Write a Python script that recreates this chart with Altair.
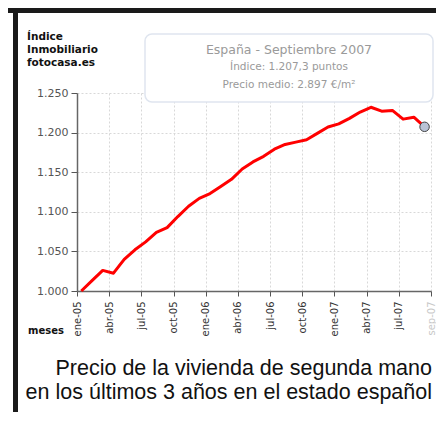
import altair as alt
import pandas as pd

# ---- data ----
months = ["2005-01", "2005-02", "2005-03", "2005-04", "2005-05", "2005-06", "2005-07", "2005-08",
          "2005-09", "2005-10", "2005-11", "2005-12", "2006-01", "2006-02", "2006-03", "2006-04",
          "2006-05", "2006-06", "2006-07", "2006-08", "2006-09", "2006-10", "2006-11", "2006-12",
          "2007-01", "2007-02", "2007-03", "2007-04", "2007-05", "2007-06", "2007-07", "2007-08",
          "2007-09"]
index_values = [1000.0, 1013.0, 1026.0, 1022.5, 1040.0, 1052.0, 1062.0, 1074.0,
                1080.0, 1094.0, 1107.0, 1117.0, 1123.0, 1132.0, 1141.0, 1154.0,
                1163.0, 1170.0, 1179.0, 1185.0, 1188.0, 1191.0, 1199.0, 1207.0,
                1211.0, 1218.0, 1226.0, 1232.0, 1227.0, 1228.0, 1217.0, 1219.5,
                1207.3]
# axis ticks sit slightly left of the month they name (as in the source graphic)
tick_positions = [-0.4, 2.6, 5.6, 8.6, 11.6, 14.6, 17.6, 20.6, 23.6, 26.6, 29.6, 32.6]
tick_labels = ["ene-05", "abr-05", "jul-05", "oct-05", "ene-06", "abr-06", "jul-06", "oct-06",
               "ene-07", "abr-07", "jul-07", "sep-07"]
y_ticks = [1000, 1050, 1100, 1150, 1200, 1250]

brand_lines = ["Índice", "Inmobiliario", "fotocasa.es"]
box_lines = ["España - Septiembre 2007", "Índice: 1.207,3 puntos", "Precio medio: 2.897 €/m²"]
caption_lines = ["Precio de la vivienda de segunda mano",
                 "en los últimos 3 años en el estado español"]
unit_label = "meses"

df = pd.DataFrame({"m": list(range(len(months))), "fecha": months, "indice": index_values})
last = df.tail(1)
one = pd.DataFrame({"a": [0]})

labels_js = "[" + ",".join("'%s'" % t for t in tick_labels) + "]"
x_label_expr = f"{labels_js}[round((datum.value + 0.4) / 3)]"

FONT = "DejaVu Sans"

x_enc = alt.X("m:Q", scale=alt.Scale(domain=[-0.4, 32.6], nice=False, zero=False),
              axis=alt.Axis(values=tick_positions, labelExpr=x_label_expr, title=None,
                            labelAngle=270, labelAlign="right", labelBaseline="middle",
                            labelFont=FONT, labelFontSize=10, labelPadding=5,
                            labelColor=alt.expr("datum.value > 32 ? '#c8c8c8' : '#333333'"),
                            tickSize=5, tickColor="#555", domainColor="#666", domainWidth=1.5,
                            grid=True, gridColor="#d8d8d8", gridDash=[2, 2],
                            labelOverlap=False, labelFlush=False))
y_enc = alt.Y("indice:Q", scale=alt.Scale(domain=[1000, 1250], nice=False, zero=False),
              axis=alt.Axis(values=y_ticks, labelExpr="replace(format(datum.value, ','), ',', '.')",
                            title=None, labelFont=FONT, labelFontSize=11, labelColor="#555",
                            labelPadding=3, tickSize=6, tickColor="#555", domainColor="#666",
                            domainWidth=1.5, grid=True, gridColor="#d8d8d8", gridDash=[2, 2],
                            labelOverlap=False, labelFlush=False))

line = alt.Chart(df).mark_line(color="#ff0000", strokeWidth=3, strokeJoin="round").encode(x=x_enc, y=y_enc)
endpoint = alt.Chart(last).mark_point(filled=True, size=90, fill="#b9c3d6", stroke="#444",
                                      strokeWidth=1, opacity=1).encode(x=x_enc, y=y_enc)

# frame bars
top_bar = alt.Chart(one).mark_rect(color="#1a1a1a").encode(
    x=alt.value(-69), x2=alt.value(370), y=alt.value(-85), y2=alt.value(-80))
left_bar = alt.Chart(one).mark_rect(color="#1a1a1a").encode(
    x=alt.value(-64), x2=alt.value(-59), y=alt.value(-85), y2=alt.value(340))

# info box
box = alt.Chart(one).mark_rect(fill="white", stroke="#dfe5ef", strokeWidth=1.5, cornerRadius=7).encode(
    x=alt.value(68), x2=alt.value(356), y=alt.value(-59), y2=alt.value(9))

def text_layer(txt, x, y, **kw):
    return alt.Chart(pd.DataFrame({"t": [txt]})).mark_text(**kw).encode(
        text="t:N", x=alt.value(x), y=alt.value(y))

layers = [top_bar, left_bar, line, box, endpoint]

brand_y = [-53, -40, -27]
for t, yy in zip(brand_lines, brand_y):
    layers.append(text_layer(t, -50, yy, font=FONT, fontSize=10.5, fontWeight="bold",
                             color="#111", align="left", baseline="alphabetic"))

box_y = [-43, -26, -8]
box_sizes = [12.5, 10.5, 10.5]
for t, yy, fs in zip(box_lines, box_y, box_sizes):
    layers.append(text_layer(t, 212, yy, font=FONT, fontSize=fs, color="#9a9a9a",
                             align="center", baseline="middle"))

layers.append(text_layer(unit_label, -49, 238, font=FONT, fontSize=10, fontWeight="bold",
                         color="#111", align="left", baseline="middle"))

cap_y = [282, 306]
for t, yy in zip(caption_lines, cap_y):
    layers.append(text_layer(t, 355, yy, font="Liberation Sans", fontSize=21.5, color="#111",
                             align="right", baseline="alphabetic"))

chart = alt.layer(*layers).properties(
    width=354, height=198,
    padding={"left": 69, "top": 85, "right": 5, "bottom": 121},
    autosize=alt.AutoSizeParams(type="none"),
    background="white",
).configure_view(stroke=None)

chart.save("out.html", embed_options={"renderer": "svg", "actions": False})
